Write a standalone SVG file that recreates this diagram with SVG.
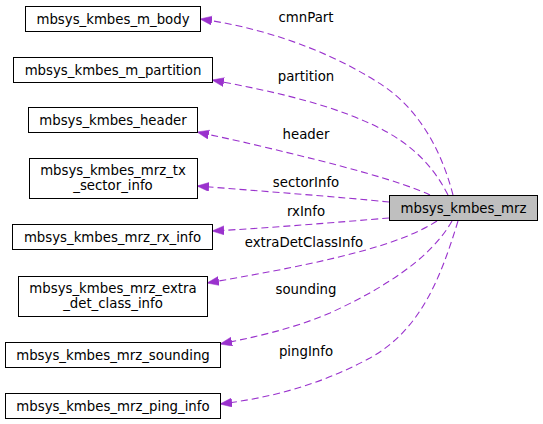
<svg xmlns="http://www.w3.org/2000/svg" width="543" height="424" viewBox="0 0 543 424">
<style>
  text { font-family: "DejaVu Sans", "Liberation Sans", sans-serif; font-size: 13.3px; fill: #000; }
  .n { text-anchor: middle; }
  .box { fill: #fff; stroke: #000; stroke-width: 1; }
  .main { fill: #bfbfbf; stroke: #000; stroke-width: 1; }
  .e { fill: none; stroke: #9a32cd; stroke-width: 1.1; stroke-dasharray: 7,4; }
  .lbl { text-anchor: middle; }
</style>
<defs>
  <marker id="arr" markerUnits="userSpaceOnUse" markerWidth="13" markerHeight="10" refX="12" refY="4.5" orient="auto">
    <path d="M0,0 L12,4.5 L0,9 z" fill="#9a32cd" stroke="#9a32cd" stroke-width="0.5"/>
  </marker>
</defs>
<g id="edges">
  <path class="e" marker-end="url(#arr)" d="M453,195 C444,160 425,115 385,87 C345,60 280,30 200,19"/>
  <path class="e" marker-end="url(#arr)" d="M448,195 C425,150 390,128 330,108 C290,95 250,87 212,80"/>
  <path class="e" marker-end="url(#arr)" d="M430,195 C400,181 340,165 260,146 C235,140 215,136 197,132"/>
  <path class="e" marker-end="url(#arr)" d="M389,202 C340,197 260,191 197,186"/>
  <path class="e" marker-end="url(#arr)" d="M389,218 C340,222 270,228 212,231"/>
  <path class="e" marker-end="url(#arr)" d="M437,221 C400,245 330,262 207,283"/>
  <path class="e" marker-end="url(#arr)" d="M452,221 C430,260 380,290 330,313 C290,330 250,338 220,344"/>
  <path class="e" marker-end="url(#arr)" d="M458,221 C440,280 420,330 370,358 C320,385 270,398 220,404"/>
  <text class="lbl" x="306" y="22">cmnPart</text>
  <text class="lbl" x="306" y="81">partition</text>
  <text class="lbl" x="306" y="139">header</text>
  <text class="lbl" x="306" y="187">sectorInfo</text>
  <text class="lbl" x="306" y="216">rxInfo</text>
  <text class="lbl" x="304" y="247">extraDetClassInfo</text>
  <text class="lbl" x="306" y="294">sounding</text>
  <text class="lbl" x="306" y="356">pingInfo</text>
</g>
<g id="mrz">
  <rect class="main" x="389.5" y="195.5" width="148" height="25"/>
  <text class="n" x="463.5" y="213">mbsys_kmbes_mrz</text>
</g>
<g id="m_body">
  <rect class="box" x="25.5" y="6.5" width="175" height="25"/>
  <text class="n" x="113" y="24">mbsys_kmbes_m_body</text>
</g>
<g id="m_partition">
  <rect class="box" x="13.5" y="57.5" width="199" height="25"/>
  <text class="n" x="113" y="75">mbsys_kmbes_m_partition</text>
</g>
<g id="header">
  <rect class="box" x="28.5" y="107.5" width="169" height="25"/>
  <text class="n" x="113" y="125">mbsys_kmbes_header</text>
</g>
<g id="tx_sector_info">
  <rect class="box" x="29.5" y="158.5" width="168" height="40"/>
  <text class="n" x="113" y="175">mbsys_kmbes_mrz_tx</text>
  <text class="n" x="113" y="190">_sector_info</text>
</g>
<g id="rx_info">
  <rect class="box" x="12.5" y="224.5" width="200" height="25"/>
  <text class="n" x="112.5" y="242">mbsys_kmbes_mrz_rx_info</text>
</g>
<g id="extra_det_class_info">
  <rect class="box" x="18.5" y="276.5" width="189" height="40"/>
  <text class="n" x="113" y="293">mbsys_kmbes_mrz_extra</text>
  <text class="n" x="113" y="308">_det_class_info</text>
</g>
<g id="sounding">
  <rect class="box" x="5.5" y="342.5" width="215" height="25"/>
  <text class="n" x="113" y="360">mbsys_kmbes_mrz_sounding</text>
</g>
<g id="ping_info">
  <rect class="box" x="5.5" y="393.5" width="215" height="25"/>
  <text class="n" x="113" y="411">mbsys_kmbes_mrz_ping_info</text>
</g>
</svg>
